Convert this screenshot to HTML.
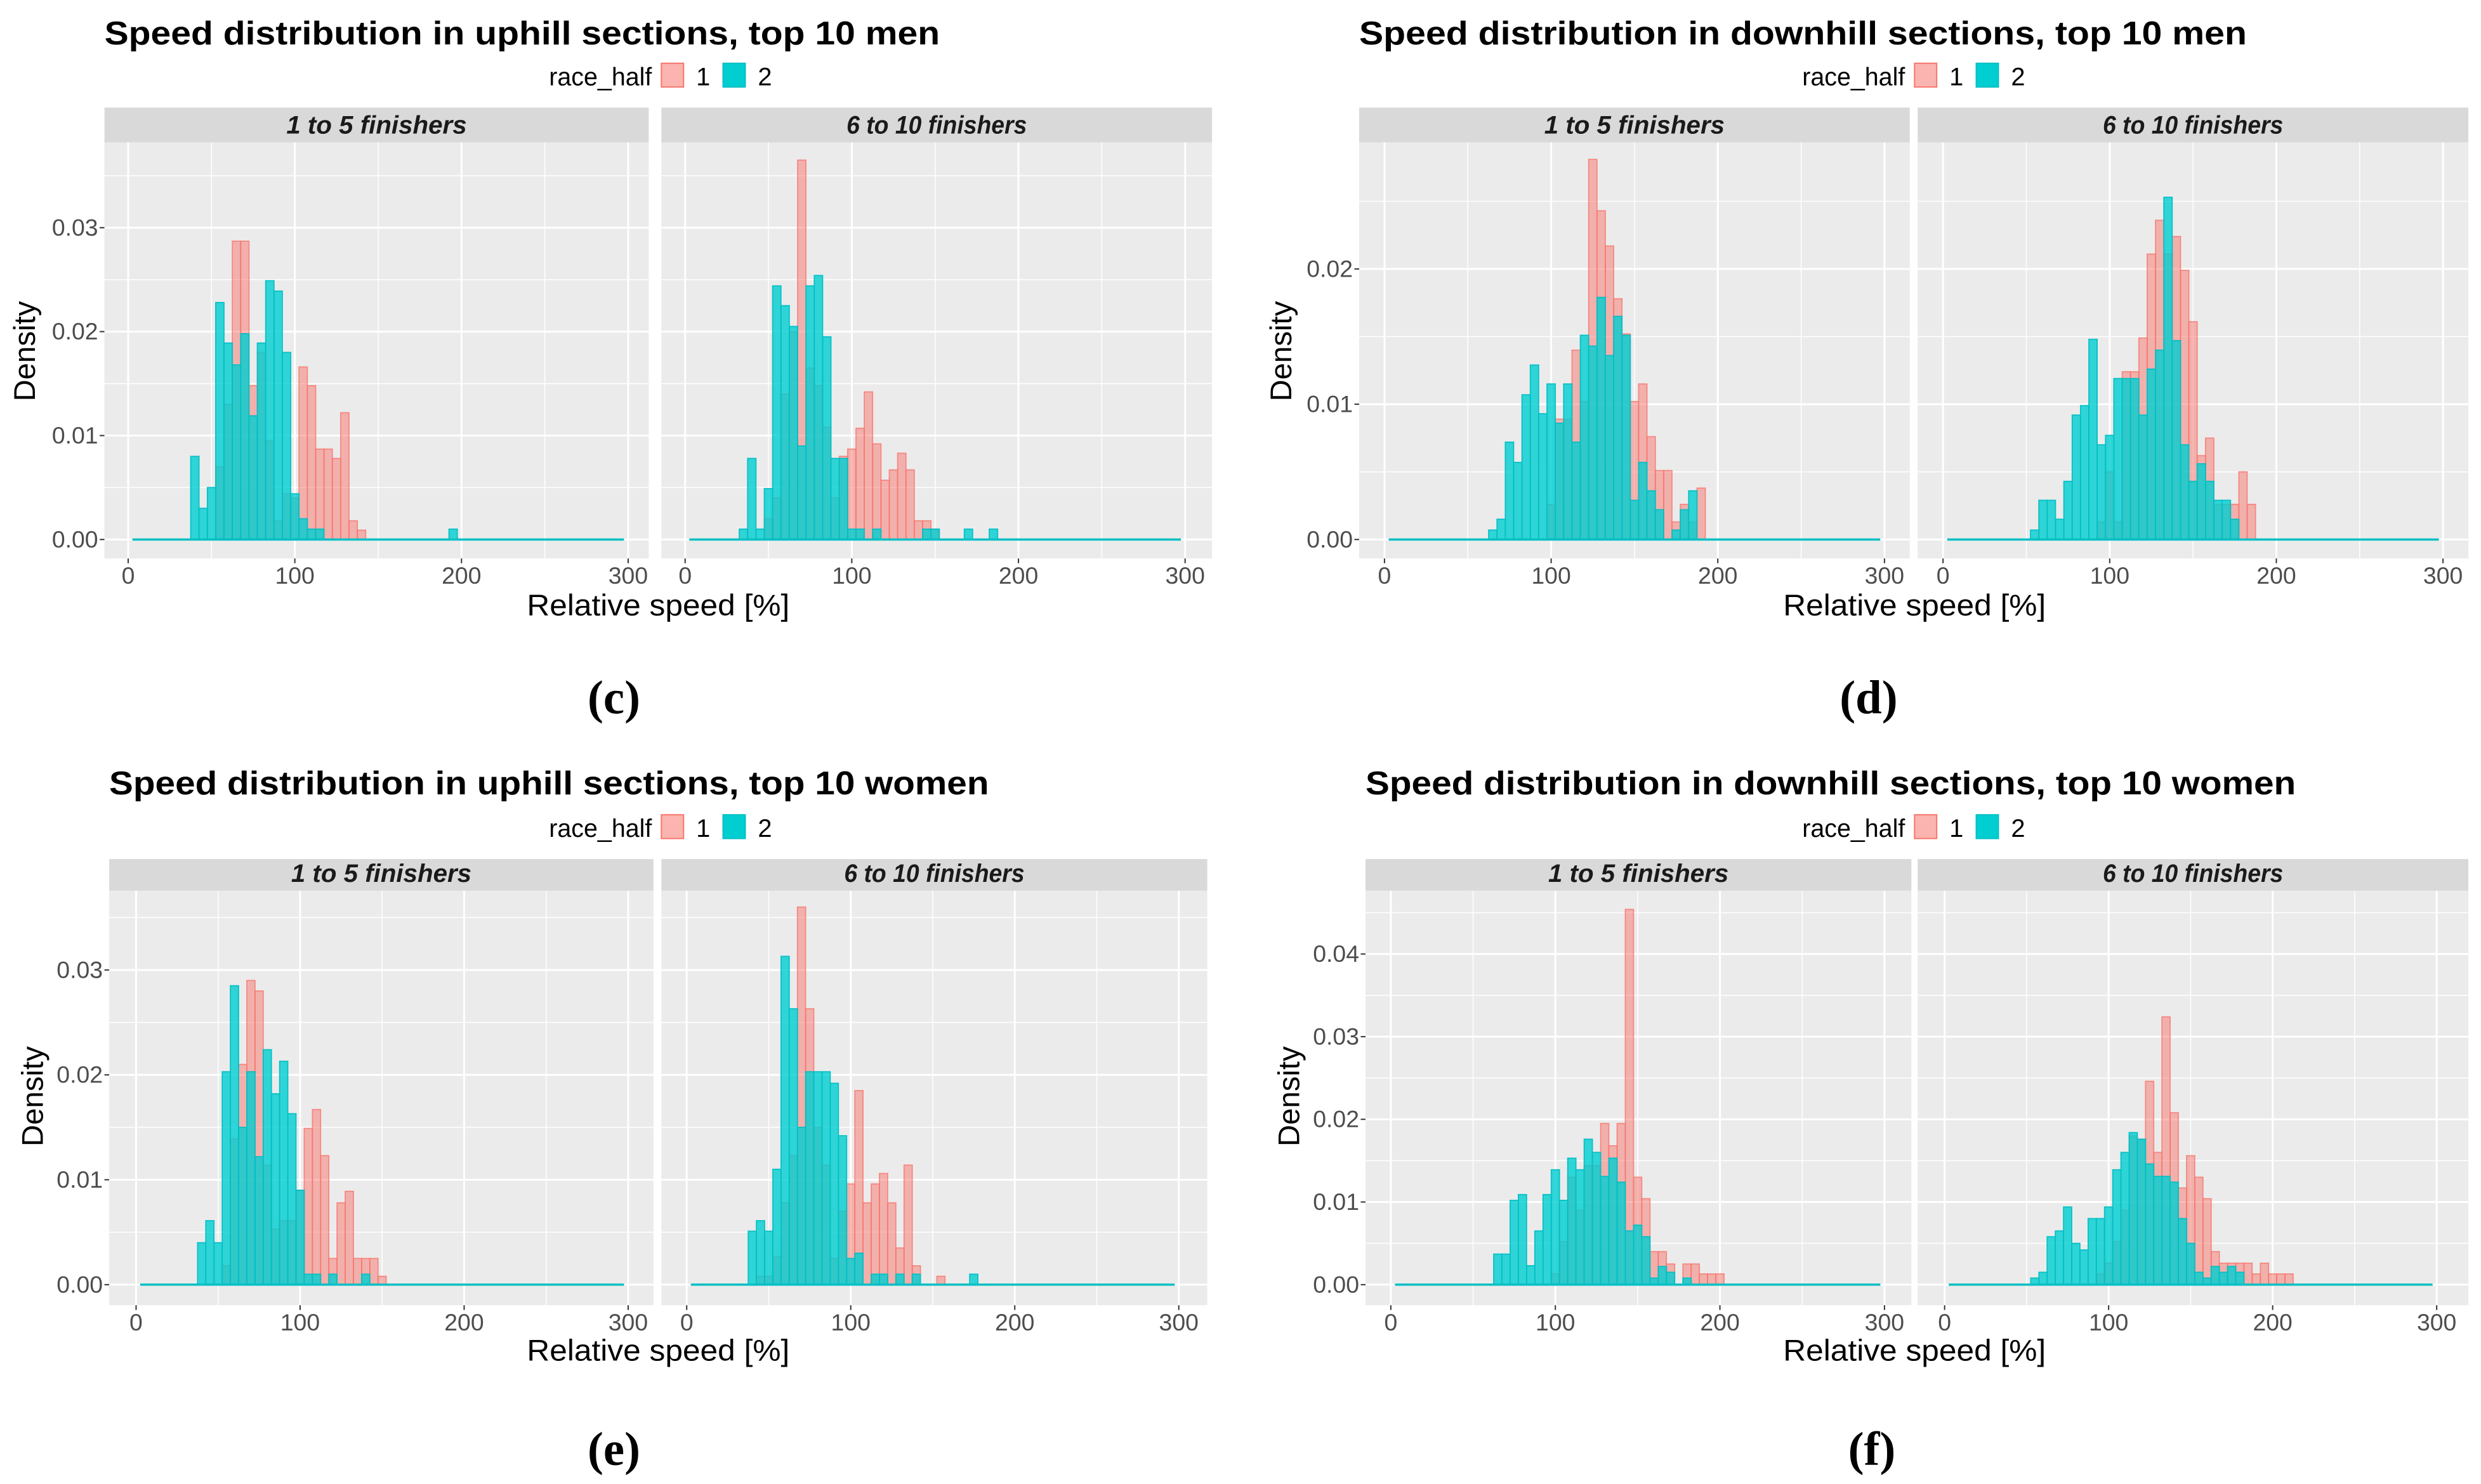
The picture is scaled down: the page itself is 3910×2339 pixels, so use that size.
<!DOCTYPE html>
<html><head><meta charset="utf-8"><style>
html,body{margin:0;padding:0;background:#fff}
svg{display:block}
text{font-family:"Liberation Sans",Arial,sans-serif}
</style></head><body>
<svg id="fig" xmlns="http://www.w3.org/2000/svg" width="3910" height="2339" viewBox="0 0 1568 938"></svg>
<script>
// ---- data (bin width 5, first bin center + density values) ----
const binWidth = 5;
const xTicks = [0, 100, 200, 300];
const yTicksC = [0, 0.01, 0.02, 0.03];
const yTicksD = [0, 0.01, 0.02];
const yTicksE = [0, 0.01, 0.02, 0.03];
const yTicksF = [0, 0.01, 0.02, 0.03, 0.04];
const yTickLabelsC = ["0.00","0.01","0.02","0.03"];
const yTickLabelsD = ["0.00","0.01","0.02"];
const yTickLabelsE = ["0.00","0.01","0.02","0.03"];
const yTickLabelsF = ["0.00","0.01","0.02","0.03","0.04"];
const facetLabels = ["1 to 5 finishers", "6 to 10 finishers"];

const cL1Start = 55;
const cL1 = [0.007,0.013,0.0287,0.0287,0.0148,0.018,0.0095,0.0018,0.0044,0.004,0.0166,0.0148,0.0087,0.0087,0.0078,0.0122,0.0018,0.0009];
const cL2Start = 40;
const cL2 = [0.008,0.003,0.005,0.0228,0.0189,0.0168,0.0198,0.0119,0.0189,0.0249,0.0239,0.018,0.0044,0.002,0.001,0.001,0,0,0,0,0,0,0,0,0,0,0,0,0,0,0,0.001];
const cR1Start = 50;
const cR1 = [0.002,0.004,0.014,0.02,0.0365,0.0165,0.0148,0.0108,0.004,0.008,0.0087,0.0107,0.0142,0.0092,0.0057,0.0067,0.0083,0.0067,0.0018,0.0018,0.001];
const cR2Start = 35;
const cR2 = [0.001,0.0078,0.001,0.0049,0.0244,0.0225,0.0205,0.009,0.0244,0.0254,0.0195,0.0078,0.0078,0.001,0.001,0,0.001,0,0,0,0,0,0.001,0.001,0,0,0,0.001,0,0,0.001];

const dL1Start = 100;
const dL1 = [0.0026,0.0089,0.0089,0.014,0.0102,0.0281,0.0243,0.0217,0.0178,0.0152,0.0102,0.0115,0.0076,0.0051,0.0051,0.0013,0.0026,0.0013,0.0038];
const dL2Start = 65;
const dL2 = [0.0007,0.0015,0.0072,0.0057,0.0107,0.0129,0.0093,0.0115,0.0086,0.0115,0.0072,0.0151,0.0143,0.0179,0.0136,0.0165,0.0151,0.0029,0.0057,0.0036,0.0022,0,0.0007,0.0022,0.0036];
const dR1Start = 95;
const dR1 = [0.0013,0.005,0.0013,0.0124,0.0124,0.0149,0.0211,0.0236,0.0211,0.0224,0.0199,0.0161,0.0062,0.0075,0.0026,0.0026,0.0026,0.005,0.0026];
const dR2Start = 55;
const dR2 = [0.0007,0.0029,0.0029,0.0015,0.0043,0.0092,0.0099,0.0148,0.007,0.0077,0.0119,0.0119,0.0119,0.0092,0.0126,0.014,0.0253,0.0147,0.007,0.0043,0.0056,0.0043,0.0029,0.0029,0.0015];

const eL1Start = 55;
const eL1 = [0.0018,0.0139,0.021,0.029,0.028,0.0114,0.0053,0.0061,0.0061,0.009,0.0149,0.0167,0.0123,0.0025,0.0078,0.0089,0.0025,0.0025,0.0025,0.0008];
const eL2Start = 40;
const eL2 = [0.004,0.0061,0.004,0.0203,0.0285,0.015,0.0203,0.0122,0.0224,0.0182,0.0213,0.0163,0.009,0.001,0.001,0,0.001,0,0,0,0.001];
const eR1Start = 45;
const eR1 = [0.0008,0.0008,0.0027,0.0078,0.0123,0.036,0.0263,0.015,0.0114,0.0025,0.007,0.0096,0.0185,0.0078,0.0096,0.0106,0.0078,0.0035,0.0114,0.0018,0,0,0.0008];
const eR2Start = 40;
const eR2 = [0.0051,0.0061,0.0051,0.011,0.0313,0.0263,0.015,0.0203,0.0203,0.0203,0.0192,0.0142,0.0025,0.003,0,0.001,0.001,0,0.001,0,0.001,0,0,0,0,0,0,0.001];

const fL1Start = 100;
const fL1 = [0.0013,0.0052,0.013,0.009,0.0144,0.0144,0.0195,0.0168,0.0195,0.0454,0.013,0.0104,0.004,0.004,0.0025,0,0.0025,0.0025,0.0013,0.0013,0.0013];
const fL2Start = 65;
const fL2 = [0.0037,0.0037,0.0102,0.0109,0.0023,0.0065,0.0109,0.0139,0.0102,0.0153,0.0139,0.0176,0.016,0.0131,0.0153,0.0124,0.0065,0.0072,0.0058,0.0008,0.0022,0.0015,0,0.0008];
const fR1Start = 95;
const fR1 = [0.0013,0.0026,0.0052,0.009,0.018,0.0176,0.0246,0.016,0.0324,0.0208,0.0117,0.0156,0.013,0.0104,0.004,0.0026,0.0026,0.0026,0.0026,0.0013,0.0026,0.0013,0.0013,0.0013];
const fR2Start = 55;
const fR2 = [0.0008,0.0015,0.0058,0.0065,0.0094,0.005,0.0042,0.008,0.008,0.0094,0.0139,0.016,0.0184,0.0176,0.0146,0.0131,0.0131,0.0124,0.008,0.005,0.0015,0.0008,0.0022,0.0015,0.0022,0.0015];

const panels = [
 {id:"c", title:"Speed distribution in uphill sections, top 10 men", tx:66, ty:28, tw:528, legX:347, legY:54,
  facets:[[66,410],[418,766]], x0:[81,433], x300:[397,749], stripTop:68, stripBot:90, plotBot:353, y0:341, per:65.7,
  yTicks:yTicksC, yLabels:yTickLabelsC, axisX:416, axisY:389, densX:22, densY:222, cap:"(c)", capX:388, capY:451,
  series:[[cL1Start,cL1,cL2Start,cL2],[cR1Start,cR1,cR2Start,cR2]]},
 {id:"d", title:"Speed distribution in downhill sections, top 10 men", tx:859, ty:28, tw:561, legX:1139, legY:54,
  facets:[[859,1207],[1212,1560]], x0:[875,1228], x300:[1191,1544], stripTop:68, stripBot:90, plotBot:353, y0:341, per:85.5,
  yTicks:yTicksD, yLabels:yTickLabelsD, axisX:1210, axisY:389, densX:816, densY:222, cap:"(d)", capX:1181, capY:451,
  series:[[dL1Start,dL1,dL2Start,dL2],[dR1Start,dR1,dR2Start,dR2]]},
 {id:"e", title:"Speed distribution in uphill sections, top 10 women", tx:69, ty:502, tw:556, legX:347, legY:529,
  facets:[[69,413],[418,763]], x0:[86,434], x300:[397,745], stripTop:543, stripBot:563, plotBot:825, y0:812, per:66.3,
  yTicks:yTicksE, yLabels:yTickLabelsE, axisX:416, axisY:860, densX:27, densY:693, cap:"(e)", capX:388, capY:926,
  series:[[eL1Start,eL1,eL2Start,eL2],[eR1Start,eR1,eR2Start,eR2]]},
 {id:"f", title:"Speed distribution in downhill sections, top 10 women", tx:863, ty:502, tw:588, legX:1139, legY:529,
  facets:[[863,1208],[1212,1560]], x0:[879,1229], x300:[1191,1540], stripTop:543, stripBot:563, plotBot:825, y0:812, per:52.25,
  yTicks:yTicksF, yLabels:yTickLabelsF, axisX:1210, axisY:860, densX:821, densY:693, cap:"(f)", capX:1183, capY:926,
  series:[[fL1Start,fL1,fL2Start,fL2],[fR1Start,fR1,fR2Start,fR2]]}
];

const NS = "http://www.w3.org/2000/svg";
const svg = document.getElementById("fig");
function mk(tag, attrs, parent, txt){
  const e = document.createElementNS(NS, tag);
  for (const k in attrs) e.setAttribute(k, attrs[k]);
  if (txt !== undefined) e.textContent = txt;
  (parent||svg).appendChild(e);
  return e;
}

panels.forEach(p => {
  const g = mk("g", {});
  
  
  const t = mk("text", {x:p.tx, y:p.ty, "font-size":21, "font-weight":"bold", fill:"#000", textLength:p.tw, lengthAdjust:"spacingAndGlyphs"}, g, p.title);
  
  
  // legend
  const lg = mk("g", {}, g);
  
  
  mk("text", {x:p.legX, y:p.legY, "font-size":16, fill:"#000", textLength:65, lengthAdjust:"spacingAndGlyphs"}, lg, "race_half");
  const l1 = mk("rect", {x:p.legX+71, y:p.legY-14, width:14, height:15, fill:"rgba(248,118,109,0.55)", stroke:"#F8766D", "stroke-width":0.8}, lg);
  
  
  mk("text", {x:p.legX+93, y:p.legY, "font-size":16, fill:"#000"}, lg, "1");
  const l2 = mk("rect", {x:p.legX+110, y:p.legY-14, width:14, height:15, fill:"#00CED1", stroke:"#00BFC4", "stroke-width":0.8}, lg);
  
  
  mk("text", {x:p.legX+132, y:p.legY, "font-size":16, fill:"#000"}, lg, "2");

  p.facets.forEach((f, fi) => {
    const fg = mk("g", {}, g);
    
    
    const W = f[1]-f[0];
    const sx = v => p.x0[fi] + (v/300)*(p.x300[fi]-p.x0[fi]);
    const sy = v => p.y0 - v/0.01*p.per;
    const strip = mk("rect", {x:f[0], y:p.stripTop, width:W, height:p.stripBot-p.stripTop, fill:"#D9D9D9"}, fg);
    
    
    mk("text", {x:(f[0]+f[1])/2, y:p.stripBot-5.5, "font-size":16, "font-weight":"bold", "font-style":"italic", fill:"#1A1A1A", "text-anchor":"middle", textLength:114, lengthAdjust:"spacingAndGlyphs"}, fg, facetLabels[fi]);
    const bg = mk("rect", {x:f[0], y:p.stripBot, width:W, height:p.plotBot-p.stripBot, fill:"#EBEBEB"}, fg);
    
    
    // grid
    [50,150,250].forEach(v => mk("line", {x1:sx(v), x2:sx(v), y1:p.stripBot, y2:p.plotBot, stroke:"#fff", "stroke-width":0.6}, fg));
    const ystep = p.yTicks[1]-p.yTicks[0];
    p.yTicks.forEach(v => { const m = v+ystep/2; if (sy(m) > p.stripBot) mk("line", {x1:f[0], x2:f[1], y1:sy(m), y2:sy(m), stroke:"#fff", "stroke-width":0.6}, fg); });
    xTicks.forEach(v => mk("line", {x1:sx(v), x2:sx(v), y1:p.stripBot, y2:p.plotBot, stroke:"#fff", "stroke-width":1.2}, fg));
    p.yTicks.forEach(v => mk("line", {x1:f[0], x2:f[1], y1:sy(v), y2:sy(v), stroke:"#fff", "stroke-width":1.2}, fg));
    // bars
    const s = p.series[fi];
    const drawSeries = (start, vals, fill, stroke, nm) => {
      vals.forEach((v, i) => {
        if (v <= 0) return;
        const c = start + i*binWidth;
        const r = mk("rect", {x:sx(c-binWidth/2), y:sy(v), width:sx(c+binWidth/2)-sx(c-binWidth/2), height:p.y0-sy(v), fill:fill, stroke:stroke, "stroke-width":0.7}, fg);
        
        
      });
    };
    drawSeries(s[0], s[1], "rgba(248,118,109,0.5)", "rgba(248,118,109,0.8)", 'bar-half-1');
    drawSeries(s[2], s[3], "rgba(0,206,209,0.8)", "rgba(0,191,196,0.95)", 'bar-half-2');
    mk("line", {x1:sx(2.5), x2:sx(297.5), y1:p.y0, y2:p.y0, stroke:"#00BFC4", "stroke-width":1.4}, fg);
    // x ticks
    xTicks.forEach(v => {
      mk("line", {x1:sx(v), x2:sx(v), y1:p.plotBot, y2:p.plotBot+3, stroke:"#333", "stroke-width":0.8}, fg);
      mk("text", {x:sx(v), y:p.plotBot+16, "font-size":15, fill:"#4D4D4D", "text-anchor":"middle"}, fg, String(v));
    });
    if (fi === 0) {
      p.yTicks.forEach((v, i) => {
        mk("line", {x1:f[0]-3, x2:f[0], y1:sy(v), y2:sy(v), stroke:"#333", "stroke-width":0.8}, fg);
        mk("text", {x:f[0]-4, y:sy(v)+5, "font-size":15, fill:"#4D4D4D", "text-anchor":"end"}, fg, p.yLabels[i]);
      });
    }
  });
  const ax = mk("text", {x:p.axisX, y:p.axisY, "font-size":19, fill:"#000", "text-anchor":"middle", textLength:166, lengthAdjust:"spacingAndGlyphs"}, g, "Relative speed [%]");
  
  
  const dy = mk("text", {x:p.densX, y:p.densY, "font-size":19, fill:"#000", "text-anchor":"middle", transform:"rotate(-90 "+p.densX+" "+p.densY+")"}, g, "Density");
  
  
  const cp = mk("text", {x:p.capX, y:p.capY, "font-size":30, "font-weight":"bold", fill:"#000", "text-anchor":"middle", style:"font-family:'Liberation Serif',serif"}, g, p.cap);
  
  
});
</script>
</body></html>
